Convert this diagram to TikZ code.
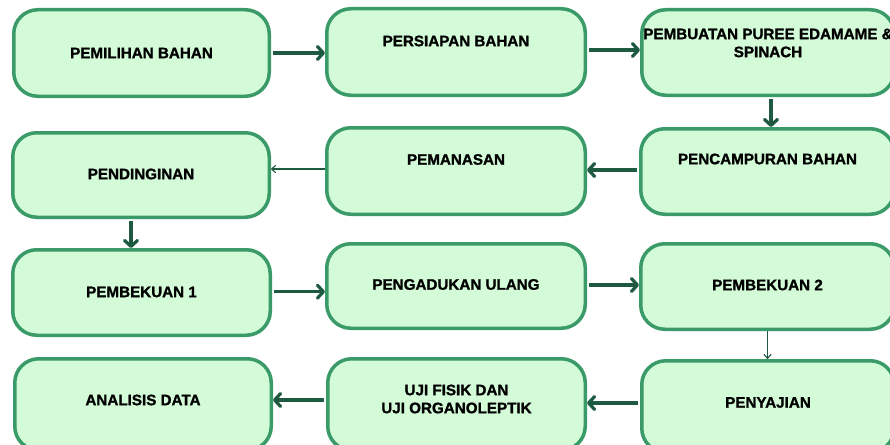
\documentclass[tikz,border=0pt]{standalone}
\usepackage{fontspec}
\setmainfont{Liberation Sans}[BoldFeatures={FakeBold=1.3}]
\usetikzlibrary{arrows.meta}
\definecolor{boxfill}{HTML}{D3FBD8}
\definecolor{boxline}{HTML}{3A9A68}
\definecolor{arrowc}{HTML}{1E5A40}
\begin{document}
\begin{tikzpicture}[x=1pt,y=-1pt,
 box/.style={draw=boxline, fill=boxfill, line width=3.5pt, rounded corners=24pt, inner sep=0pt},
 lbl/.style={font=\bfseries\fontsize{15.2}{18}\selectfont, align=center, text=black},
 flow/.style={draw=arrowc, line width=3.2pt, -{Straight Barb[length=6pt,width=13pt,round]}, shorten <=2pt},
 thin/.style={draw=arrowc, line width=1.1pt, -{Straight Barb[length=4pt,width=7pt,round]}}]
\fill[white] (0,0) rectangle (890,444);
\useasboundingbox (0,0) rectangle (890,444);

\node[box, minimum width=255.5, minimum height=86.5, label={[lbl]center:PEMILIHAN BAHAN}] (n1) at (141.5,53) {};
\node[box, minimum width=258.5, minimum height=86.5, label={[lbl,yshift=11]center:PERSIAPAN BAHAN}] (n2) at (456,52) {};
\node[box, minimum width=252.5, minimum height=85.5, label={[lbl,yshift=9.5]center:PEMBUATAN PUREE EDAMAME \&\\SPINACH}] (n3) at (768,52.5) {};
\node[box, minimum width=253.5, minimum height=85.5, label={[lbl,yshift=12.5]center:PENCAMPURAN BAHAN}] (n4) at (767.5,171.5) {};
\node[box, minimum width=258.5, minimum height=86.5, label={[lbl,yshift=11.5]center:PEMANASAN}] (n5) at (456,171) {};
\node[box, minimum width=256.5, minimum height=84.5, label={[lbl,yshift=1]center:PENDINGINAN}] (n6) at (141,175) {};
\node[box, minimum width=257.5, minimum height=85.5, label={[lbl,yshift=0.5]center:PEMBEKUAN 1}] (n7) at (141.5,292.5) {};
\node[box, minimum width=258.5, minimum height=84.5, label={[lbl,yshift=1.5]center:PENGADUKAN ULANG}] (n8) at (456,286) {};
\node[box, minimum width=253.5, minimum height=85.5, label={[lbl,yshift=1.5]center:PEMBEKUAN 2}] (n9) at (767.5,286.5) {};
\node[box, minimum width=252.5, minimum height=91.5, label={[lbl,yshift=4]center:PENYAJIAN}] (n10) at (768,406.5) {};
\node[box, minimum width=257.5, minimum height=91.5, label={[lbl,yshift=5.5]center:UJI FISIK DAN\\UJI ORGANOLEPTIK}] (n11) at (456.5,404.5) {};
\node[box, minimum width=256.5, minimum height=91.5, label={[lbl,yshift=4.5]center:ANALISIS DATA}] (n12) at (143,404.5) {};

\draw[flow] (n1.east) -- (n1.east -| n2.west);
\draw[flow] ([yshift=2]n2.east) -- ([yshift=2]n2.east -| n3.west);
\draw[flow] ([xshift=3]n3.south) -- ([xshift=3]n3.south |- n4.north);
\draw[flow] ([yshift=1.5]n4.west) -- ([yshift=1.5]n4.west -| n5.east);
\draw[thin] ([yshift=2]n5.west) -- ([yshift=2]n5.west -| n6.east);
\draw[flow] ([xshift=-10]n6.south) -- ([xshift=-10]n6.south |- n7.north);
\draw[flow] ([yshift=0.8]n7.east) -- ([yshift=0.8]n7.east -| n8.west);
\draw[flow] ([yshift=1]n8.east) -- ([yshift=1]n8.east -| n9.west);
\draw[thin] (n9.south) -- (n9.south |- n10.north);
\draw[flow] ([yshift=3.5]n10.west) -- ([yshift=3.5]n10.west -| n11.east);
\draw[flow] ([yshift=4.5]n11.west) -- ([yshift=4.5]n11.west -| n12.east);
\end{tikzpicture}
\end{document}
